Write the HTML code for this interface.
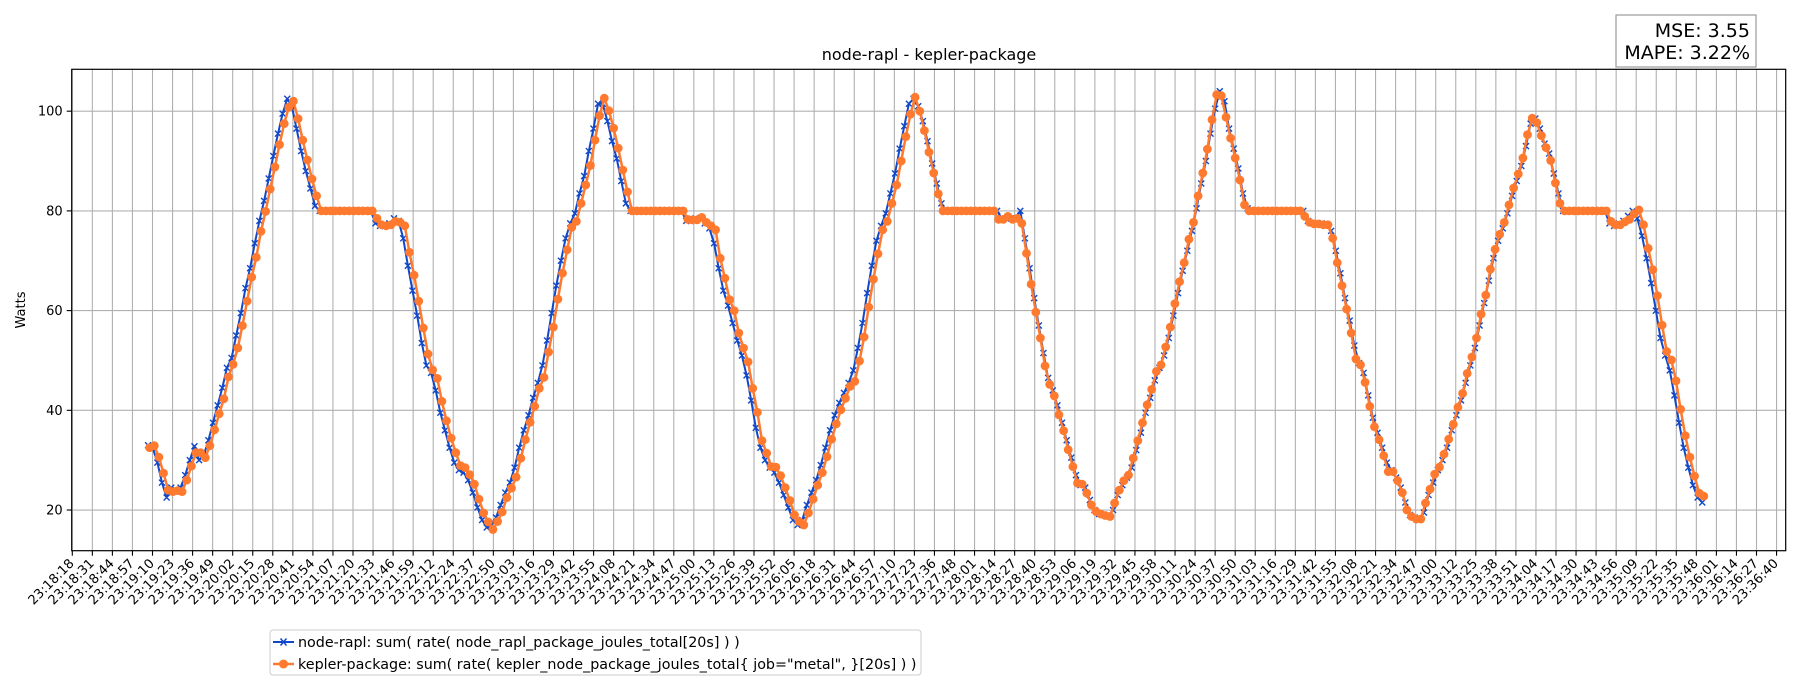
<!DOCTYPE html>
<html><head><meta charset="utf-8"><style>
html,body{margin:0;padding:0;background:#fff;}
svg{display:block;font-family:"DejaVu Sans","Liberation Sans",sans-serif;}
</style></head><body>
<svg id="chart" width="1800" height="700" viewBox="0 0 1800 700">
<rect x="0" y="0" width="1800" height="700" fill="#fff"/>
<g id="grid"></g>
<g id="series"></g>
<rect x="71.7" y="69.3" width="1714" height="481.4" fill="none" stroke="#000" stroke-width="1.2"/>
<g id="axes"></g>
<text x="929" y="60" font-size="16" text-anchor="middle">node-rapl - kepler-package</text>
<text transform="translate(25,310) rotate(-90)" font-size="13" text-anchor="middle">Watts</text>
<g>
<rect x="1616" y="15" width="140" height="52" fill="#fff" stroke="#999" stroke-width="1.2"/>
<text x="1750" y="37" font-size="19" text-anchor="end">MSE: 3.55</text>
<text x="1750" y="59" font-size="19" text-anchor="end">MAPE: 3.22%</text>
</g>
<g>
<rect x="270" y="630" width="651" height="45" rx="3" fill="#fff" stroke="#ccc" stroke-width="1"/>
<g>
<line x1="273" y1="642" x2="294" y2="642" stroke="#1048c8" stroke-width="2"/>
<path d="M280.5,638.5 L286.5,645.5 M286.5,638.5 L280.5,645.5" stroke="#1048c8" stroke-width="1.5"/>
<text x="298" y="647" font-size="14.3">node-rapl: sum( rate( node_rapl_package_joules_total[20s] ) )</text>
</g>
<g>
<line x1="273" y1="664" x2="294" y2="664" stroke="#ff7a2e" stroke-width="2.5"/>
<circle cx="283.5" cy="664" r="4.5" fill="#ff7a2e"/>
<text x="298" y="669" font-size="14.3">kepler-package: sum( rate( kepler_node_package_joules_total{ job="metal", }[20s] ) )</text>
</g>
</g>
</svg>
<script>
const tickLabels = ["23:18:18","23:18:31","23:18:44","23:18:57","23:19:10","23:19:23","23:19:36","23:19:49","23:20:02","23:20:15","23:20:28","23:20:41","23:20:54","23:21:07","23:21:20","23:21:33","23:21:46","23:21:59","23:22:12","23:22:24","23:22:37","23:22:50","23:23:03","23:23:16","23:23:29","23:23:42","23:23:55","23:24:08","23:24:21","23:24:34","23:24:47","23:25:00","23:25:13","23:25:26","23:25:39","23:25:52","23:26:05","23:26:18","23:26:31","23:26:44","23:26:57","23:27:10","23:27:23","23:27:36","23:27:48","23:28:01","23:28:14","23:28:27","23:28:40","23:28:53","23:29:06","23:29:19","23:29:32","23:29:45","23:29:58","23:30:11","23:30:24","23:30:37","23:30:50","23:31:03","23:31:16","23:31:29","23:31:42","23:31:55","23:32:08","23:32:21","23:32:34","23:32:47","23:33:00","23:33:12","23:33:25","23:33:38","23:33:51","23:34:04","23:34:17","23:34:30","23:34:43","23:34:56","23:35:09","23:35:22","23:35:35","23:35:48","23:36:01","23:36:14","23:36:27","23:36:40"];
const yTicks = [20,40,60,80,100];
const sampleStart = 50;   // seconds after 23:18:18
const sampleStep = 3;     // seconds
const blueOffset = -1;    // seconds
const keplerValues = [32.5,32.9,30.6,27.4,24.0,23.7,23.9,23.7,26.0,28.8,31.5,31.5,30.5,32.9,36.1,39.3,42.3,46.7,49.2,52.5,57.0,61.9,66.7,70.7,75.9,79.9,84.4,88.8,93.3,97.5,100.8,102.0,98.5,94.2,90.2,86.4,83.0,
80,80,80,80,80,80,80,80,80,80,80,80,
78.5,77.2,77.0,77.2,77.9,77.7,77.0,71.7,67.1,61.9,56.5,51.3,48.1,46.4,41.8,37.9,34.4,31.5,28.9,28.5,27.1,25.2,22.2,19.4,17.6,16.1,17.7,19.6,22.5,24.4,26.6,30.4,34.1,37.6,40.8,44.4,46.6,51.7,56.7,62.3,67.5,72.2,76.7,77.9,81.5,85.2,89.1,94.2,99.1,102.6,100.1,96.6,92.6,88.2,83.8,
80,80,80,80,80,80,80,80,80,80,80,80,
78.3,78.2,78.2,78.7,77.7,77.0,76.2,70.5,66.5,62.2,60.0,55.5,52.5,49.7,44.4,39.6,33.9,31.4,28.7,28.6,26.9,24.5,21.9,19.0,17.7,17.0,19.4,22.2,25.0,27.5,30.7,34.2,37.3,40.1,42.4,44.8,45.8,49.9,54.7,60.7,66.3,71.4,76.2,77.9,81.5,85.2,90.0,94.9,99.4,102.8,100.0,96.1,91.8,87.6,83.4,
80,80,80,80,80,80,80,80,80,80,80,80,
78.3,78.3,78.9,78.3,78.5,77.5,71.5,65.3,59.7,54.5,48.9,45.2,42.9,39.1,35.9,32.1,28.7,25.4,25.2,23.4,21.0,19.7,19.2,18.9,18.7,21.4,24.0,25.9,27.0,30.4,33.9,37.5,41.1,44.2,47.8,49.1,52.7,56.7,61.4,65.8,69.6,74.3,77.7,83.0,87.6,92.4,98.3,103.3,103.1,98.8,94.6,90.6,86.2,81.2,
80,80,80,80,80,80,80,80,80,80,80,80,
78.9,77.7,77.4,77.4,77.2,77.2,74.5,69.6,65.0,60.3,55.5,50.3,49.1,45.6,40.8,36.7,34.1,30.9,27.7,27.7,25.9,23.5,20.0,18.7,18.2,18.2,21.4,24.2,27.2,28.6,31.2,34.2,37.2,40.6,43.4,47.4,50.7,54.5,59.3,63.1,68.3,72.3,75.3,77.7,81.2,84.6,87.4,90.6,95.3,98.6,97.7,95.1,92.7,90.1,85.6,81.5,
80,80,80,80,80,80,80,80,80,80,
77.9,77.2,77.2,77.8,78.3,79.4,80.2,77.2,72.5,68.2,63.0,57.1,51.8,50.1,45.9,40.2,34.9,30.6,26.8,23.4,22.8];
const raplValues = [33.0,32.5,29.5,25.5,22.5,24.5,24.0,24.5,27.0,30.0,32.8,30.0,31.0,34.0,37.5,41.0,44.5,48.5,50.5,55.0,59.5,64.5,68.5,73.5,78.0,82.0,86.5,91.0,95.5,99.5,102.5,101.0,96.5,92.0,88.0,84.5,81.0,
80,80,80,80,80,80,80,80,80,80,80,80,
77.5,77.0,77.0,77.5,78.5,78.0,74.5,69.0,64.0,59.0,53.5,49.0,47.5,44.0,39.5,36.0,32.5,29.5,28.0,27.5,26.0,23.5,20.5,18.0,16.5,17.0,18.5,21.0,23.5,25.5,28.5,32.5,36.0,39.0,42.5,45.5,49.0,54.0,59.5,65.0,70.0,74.5,77.5,79.5,83.5,87.0,92.0,96.5,101.5,101.5,98.0,94.0,90.5,86.0,81.5,
80,80,80,80,80,80,80,80,80,80,80,80,
78.0,78.0,78.5,78.5,77.5,76.5,73.5,68.5,64.0,61.0,57.5,54.0,51.0,47.0,42.0,36.5,32.5,30.0,28.5,27.5,25.5,23.0,20.5,18.0,17.0,18.0,21.0,23.5,26.0,29.0,32.5,36.0,39.0,41.5,43.5,45.5,48.0,52.5,57.5,63.5,69.0,74.0,77.0,79.5,83.5,87.5,92.5,97.0,101.5,102.5,101.0,98.0,94.0,89.5,85.5,81.5,
80,80,80,80,80,80,80,80,80,80,80,80,
78.5,78.5,78.5,78.5,80.0,74.5,68.5,62.5,57.0,51.5,46.5,44.0,41.0,37.5,34.0,30.5,27.0,25.0,24.5,22.0,20.0,19.2,19.0,18.8,20.0,23.0,25.0,26.5,28.5,32.0,35.5,39.5,42.5,46.0,48.5,51.0,54.5,59.0,63.5,68.0,72.0,76.0,80.5,85.5,90.0,95.5,100.5,104.0,102.0,96.5,92.5,88.5,83.5,80.5,
80,80,80,80,80,80,80,80,80,80,80,80,
78.0,77.5,77.5,77.5,77.2,76.0,72.0,67.5,62.5,58.0,53.0,49.5,47.5,43.0,38.5,35.5,32.5,29.5,28.0,26.5,24.5,21.5,19.0,18.5,18.0,19.5,23.0,25.5,28.0,30.0,32.5,36.0,39.0,42.0,45.5,49.0,52.5,57.0,61.5,66.0,70.5,74.0,76.5,79.5,83.0,86.0,89.0,93.0,97.5,98.5,96.5,93.5,91.5,87.5,83.5,
80,80,80,80,80,80,80,80,80,80,
77.5,77.0,77.5,78.0,79.0,80.0,78.5,75.0,70.5,65.5,60.0,54.5,51.0,48.0,43.0,37.5,32.5,28.5,25.0,22.5,21.5];

const NS = 'http://www.w3.org/2000/svg';
const plotL = 71.7, plotR = 1785.7, plotT = 69.3, plotB = 550.7;
const tick0X = 72.3, tickStepPx = 20.05, tickStepSec = 12.965;
const yMin = 11.84, yMax = 108.4;
function xScale(sec){ return tick0X + sec * (tickStepPx / tickStepSec); }
function xTick(i){ return tick0X + i * tickStepPx; }
function yScale(v){ return plotB - (v - yMin) / (yMax - yMin) * (plotB - plotT); }
function mk(tag, attrs, parent){ const e = document.createElementNS(NS, tag); for (const k in attrs) e.setAttribute(k, attrs[k]); parent.appendChild(e); return e; }

const grid = document.getElementById('grid');
const axes = document.getElementById('axes');
tickLabels.forEach((lab, i) => {
  const x = xTick(i);
  const g = mk('line', {x1:x, y1:plotT, x2:x, y2:plotB, stroke:'#b0b0b0', 'stroke-width':1.1}, grid);
  
  
  const t = mk('line', {x1:x, y1:plotB, x2:x, y2:plotB+5, stroke:'#000', 'stroke-width':1.1}, axes);
  
  
  const tx = mk('text', {transform:'translate(' + (x-4) + ',' + (plotB+7) + ') rotate(-45)', 'font-size':13, 'text-anchor':'end', dy:'0.7em'}, axes);
  tx.textContent = lab;
  
  
});
yTicks.forEach(v => {
  const y = yScale(v);
  const g = mk('line', {x1:plotL, y1:y, x2:plotR, y2:y, stroke:'#b0b0b0', 'stroke-width':1.1}, grid);
  
  
  const t = mk('line', {x1:plotL-5, y1:y, x2:plotL, y2:y, stroke:'#000', 'stroke-width':1.1}, axes);
  
  
  const tx = mk('text', {x:plotL-9, y:y+4.5, 'font-size':13, 'text-anchor':'end'}, axes);
  tx.textContent = String(v);
  
  
});

const series = document.getElementById('series');
const bluePts = raplValues.map((v, i) => [xScale(sampleStart + blueOffset + i*sampleStep), yScale(v)]);
const bl = mk('polyline', {points: bluePts.map(p => p[0].toFixed(1)+','+p[1].toFixed(1)).join(' '), fill:'none', stroke:'#1048c8', 'stroke-width':2, 'stroke-linejoin':'round'}, series);


let d = '';
bluePts.forEach(p => { const s = 3; d += 'M'+(p[0]-s)+','+(p[1]-s)+'L'+(p[0]+s)+','+(p[1]+s)+'M'+(p[0]+s)+','+(p[1]-s)+'L'+(p[0]-s)+','+(p[1]+s); });
const bm = mk('path', {d:d, stroke:'#1048c8', 'stroke-width':1.4, fill:'none'}, series);


const orPts = keplerValues.map((v, i) => [xScale(sampleStart + i*sampleStep), yScale(v)]);
const ol = mk('polyline', {points: orPts.map(p => p[0].toFixed(1)+','+p[1].toFixed(1)).join(' '), fill:'none', stroke:'#ff7a2e', 'stroke-width':2.5, 'stroke-linejoin':'round'}, series);


orPts.forEach(p => {
  const c = mk('circle', {cx:p[0].toFixed(1), cy:p[1].toFixed(1), r:4.4, fill:'#ff7a2e'}, series);
  
  
});
</script>
</body></html>
